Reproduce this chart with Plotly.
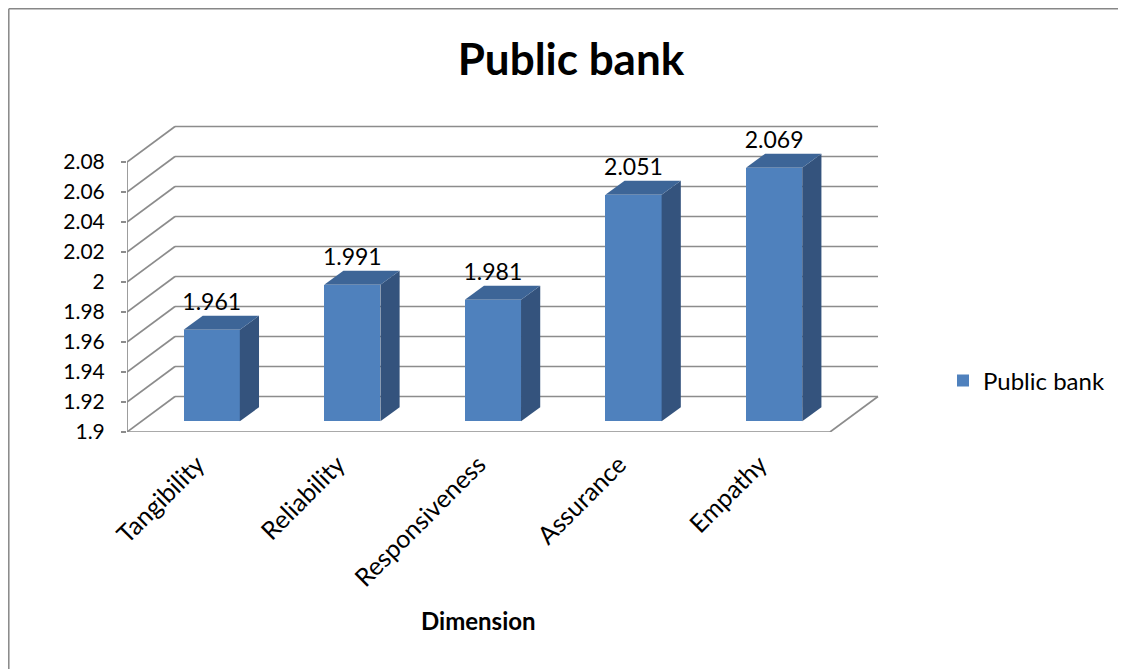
import plotly.graph_objects as go

# ---- data ----
categories = ["Tangibility", "Reliability", "Responsiveness", "Assurance", "Empathy"]
values = [1.961, 1.991, 1.981, 2.051, 2.069]
value_labels = ["1.961", "1.991", "1.981", "2.051", "2.069"]
y_ticks = [1.9, 1.92, 1.94, 1.96, 1.98, 2.0, 2.02, 2.04, 2.06, 2.08]
y_tick_labels = ["1.9", "1.92", "1.94", "1.96", "1.98", "2", "2.02", "2.04", "2.06", "2.08"]
series_name = "Public bank"
title_text = "Public bank"
x_title = "Dimension"

# ---- styling / projection ----
FONT = "Lato"
FRONT = "#4F81BD"
SIDE = "#34537D"
TOP = "#3D6597"
GRID = "#8C8C8C"
OFF = 8                        # page body margin
W, H = 1126 - OFF, 669 - OFF   # figure size
# target positions in screenshot pixels, converted to figure pixels
L_PX, R_PX = 127 - OFF, 885 - OFF
T_PX, B_PX = 120 - OFF, 432 - OFF
PX_PER_CAT = 140.6
PX_PER_UNIT = 1500.0
DX = 48 / PX_PER_CAT           # depth offset in category units
DY = 35.5 / PX_PER_UNIT        # depth offset in value units
BASE = y_ticks[0]
TOPV = y_ticks[-1]
n = len(categories)
x0, x1 = -0.5, n - 0.5
xr = [x0, x0 + (R_PX - L_PX) / PX_PER_CAT]
yr = [BASE, BASE + (B_PX - T_PX) / PX_PER_UNIT]
BW = 0.4                       # bar width (category units)
D0, D1 = 0.3, 0.7              # bar depth span (fraction of depth)


def px_to_paper_x(px):  # screenshot px -> paper
    return (px - OFF - L_PX) / (R_PX - L_PX)


def px_to_paper_y(py):
    return (B_PX - (py - OFF)) / (B_PX - T_PX)


fig = go.Figure()

# ---- 3D frame (shapes behind traces) ----
shapes = []
line = dict(color=GRID, width=1.7)
for v in y_ticks:
    shapes.append(dict(type="line", xref="x", yref="y", layer="below",
                       x0=x0 + DX, y0=v + DY, x1=x1 + DX, y1=v + DY, line=line))
    shapes.append(dict(type="line", xref="x", yref="y", layer="below",
                       x0=x0, y0=v, x1=x0 + DX, y1=v + DY, line=line))
shapes.append(dict(type="line", xref="x", yref="y", layer="below",
                   x0=x1, y0=BASE, x1=x1 + DX, y1=BASE + DY, line=line))
shapes.append(dict(type="line", xref="x", yref="y", layer="below",
                   x0=x0, y0=BASE, x1=x1, y1=BASE, line=line))
shapes.append(dict(type="line", xref="x", yref="y", layer="below",
                   x0=x0, y0=BASE, x1=x0, y1=TOPV, line=line))
for k in range(n + 1):
    shapes.append(dict(type="line", xref="x", yref="y", layer="below",
                       x0=x0 + k, y0=BASE, x1=x0 + k, y1=BASE - 5 / PX_PER_UNIT, line=line))

# chart border (top and left edges)
border = dict(color="#878787", width=1.5)
shapes.append(dict(type="line", xref="paper", yref="paper",
                   x0=px_to_paper_x(OFF + 0.8), y0=px_to_paper_y(OFF + 0.8),
                   x1=px_to_paper_x(1140), y1=px_to_paper_y(OFF + 0.8), line=border))
shapes.append(dict(type="line", xref="paper", yref="paper",
                   x0=px_to_paper_x(OFF + 0.8), y0=px_to_paper_y(OFF + 0.8),
                   x1=px_to_paper_x(OFF + 0.8), y1=px_to_paper_y(700), line=border))

# ---- bars: front faces ----
xc = [i + D0 * DX for i in range(n)]
fig.add_trace(go.Bar(
    x=xc, y=[v - BASE for v in values], base=BASE + D0 * DY, width=BW,
    marker=dict(color=FRONT, line=dict(width=0)), name=series_name,
    showlegend=True, hoverinfo="skip",
))

# side and top faces
for i, v in enumerate(values):
    xl = xc[i] - BW / 2
    xrr = xc[i] + BW / 2
    ddx = (D1 - D0) * DX
    ddy = (D1 - D0) * DY
    yb = BASE + D0 * DY
    yt = v + D0 * DY
    fig.add_trace(go.Scatter(
        x=[xrr, xrr + ddx, xrr + ddx, xrr, xrr],
        y=[yb, yb + ddy, yt + ddy, yt, yb],
        fill="toself", fillcolor=SIDE, mode="lines", line=dict(width=0, color=SIDE),
        showlegend=False, hoverinfo="skip"))
    fig.add_trace(go.Scatter(
        x=[xl, xrr, xrr + ddx, xl + ddx, xl],
        y=[yt, yt, yt + ddy, yt + ddy, yt],
        fill="toself", fillcolor=TOP, mode="lines", line=dict(width=0, color=TOP),
        showlegend=False, hoverinfo="skip"))

# value labels
fig.add_trace(go.Scatter(
    x=xc, y=[v + D1 * DY for v in values], mode="text", text=value_labels,
    textposition="top center", textfont=dict(family=FONT, size=23, color="#000000"),
    showlegend=False, hoverinfo="skip"))

fig.update_layout(
    width=W, height=H,
    margin=dict(l=L_PX, r=W - R_PX, t=T_PX, b=H - B_PX, autoexpand=False),
    paper_bgcolor="white", plot_bgcolor="white",
    shapes=shapes,
    title=dict(text="<b>" + title_text + "</b>", x=(571 - OFF) / W, xref="container",
               xanchor="center", y=1 - (60 - OFF) / H, yref="container", yanchor="middle",
               font=dict(family=FONT, size=44, color="#000000")),
    xaxis=dict(range=xr, tickvals=list(range(n)), ticktext=categories, tickangle=-45,
               showgrid=False, zeroline=False, showline=False, ticks="",
               ticklabelstandoff=12,
               tickfont=dict(family=FONT, size=25, color="#000000")),
    yaxis=dict(range=yr, tickvals=y_ticks, ticktext=y_tick_labels, showgrid=False,
               zeroline=False, showline=False, ticks="outside", ticklen=5,
               tickcolor=GRID, tickwidth=1.7, ticklabelstandoff=12,
               tickfont=dict(family=FONT, size=21, color="#000000")),
    legend=dict(x=px_to_paper_x(943), y=px_to_paper_y(381), xanchor="left", yanchor="middle",
                font=dict(family=FONT, size=24, color="#000000"), bgcolor="rgba(0,0,0,0)"),
    annotations=[dict(text="<b>" + x_title + "</b>", x=(n - 1) / 2, xref="x",
                      y=px_to_paper_y(620), yref="paper", showarrow=False,
                      xanchor="center", yanchor="middle",
                      font=dict(family=FONT, size=24, color="#000000"))],
    bargap=0,
)

fig.write_html("out.html")
